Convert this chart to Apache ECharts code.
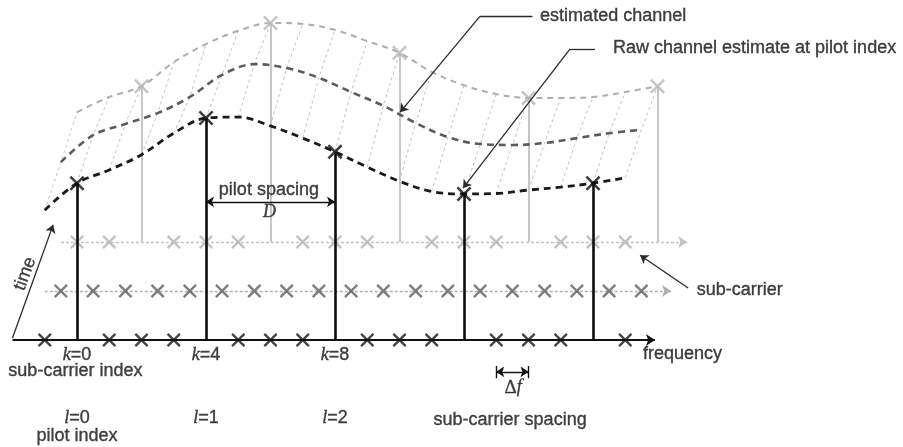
<!DOCTYPE html>
<html><head><meta charset="utf-8">
<script src="https://cdn.jsdelivr.net/npm/echarts@6/dist/echarts.min.js"></script>
<style>html,body{margin:0;padding:0;background:#fff}#c{width:903px;height:447px}</style>
</head><body><div id="c"></div>
<script>
// sub-carrier indices spanned by the drawn channel surface
const subcarriers = [-1,0,1,2,3,4,5,6,7,8,9,10,11,12,13,14,15,16,17];
// channel amplitude per sub-carrier for three consecutive OFDM symbols (front, middle, back)
const ampSymbol0 = [2.65,3.20,3.47,3.78,4.22,4.53,4.55,4.37,4.12,3.84,3.53,3.24,3.03,2.98,2.99,3.06,3.12,3.20,3.31];
const ampSymbol1 = [2.63,3.18,3.41,3.63,3.96,4.41,4.63,4.55,4.35,4.06,3.78,3.43,3.14,3.00,2.98,3.02,3.12,3.22,3.29];
const ampSymbol2 = [2.65,2.96,3.18,3.67,4.04,4.31,4.47,4.45,4.33,4.10,3.86,3.47,3.20,3.02,2.94,2.94,2.96,3.06,3.18];
// pilot positions
const pilotsSymbol0 = [0,4,8,12,16];
const pilotsSymbol2 = [1,5,9,13,17];
// data sub-carriers (X marks on the axis)
const dataSymbol0 = [-1,1,2,3,5,6,7,9,10,11,13,14,15,17];
const dataSymbol1 = [-1,0,1,2,3,4,5,6,7,8,9,10,11,12,13,14,15,16,17];
const dataSymbol2 = [-1,0,2,3,4,6,7,8,10,11,12,14,15,16];
// labels
const subcarrierIndexLabels = [[0,'0'],[4,'4'],[8,'8']];
const pilotIndexLabels = [[0,'0'],[4,'1'],[8,'2']];

const SHIFT = 0.5;                       // oblique time axis: x shift per symbol
function proj(k, t, a) { return [k + SHIFT * t, t + a]; }
const amps = [ampSymbol0, ampSymbol1, ampSymbol2];
const ampAt = (t, k) => amps[t][subcarriers.indexOf(k)];
const X_PATH = 'path://M0,1.2L1.2,0L5,3.8L8.8,0L10,1.2L6.2,5L10,8.8L8.8,10L5,6.2L1.2,10L0,8.8L3.8,5Z';
const TXT = '#111111';
const SANS = 'Liberation Sans, Arial, sans-serif';
const SERIF = 'Liberation Serif, Times New Roman, serif';

const series = [];
function xs(name, pts, color, size, z) {
  series.push({ type:'scatter', name, data: pts, symbol: X_PATH, symbolSize: size, symbolKeepAspect:true,
    itemStyle:{color}, z, clip:false, silent:true });
}
function segs(name, list, style, z, sym, symSize) {
  series.push({ type:'lines', name, coordinateSystem:'cartesian2d', polyline:false,
    data: list.map(c => ({coords:c})), lineStyle: Object.assign({curveness:0, opacity:1}, style),
    symbol: sym || 'none', symbolSize: symSize || 8, z, clip:false, silent:true });
}

// ---- row lines (time symbols) ----
const rows = [
  {t:2, start:-1.5, color:'#c2c2c2', width:1.3, type:[3,2], z:1},
  {t:1, start:-1.5, color:'#b0b0b0', width:1.3, type:[3,2], z:3},
  {t:0, start:-2,   color:'#111111', width:2,   type:'solid', z:6}
];
rows.forEach(r => segs('row'+r.t, [[proj(r.start, r.t, 0), proj(17.92, r.t, 0)]],
  {color:r.color, width:r.width, type:r.type}, r.z, ['none','arrow'], 9));

// back row marks and stems
xs('data2', dataSymbol2.map(k => proj(k,2,0)), '#b3b3b3', 14, 2);
segs('stem2', pilotsSymbol2.map(k => [proj(k,2,0), proj(k,2,ampAt(2,k))]), {color:'#c6c6c6', width:2}, 2);
xs('pilot2', pilotsSymbol2.map(k => proj(k,2,ampAt(2,k))), '#b8b8b8', 15, 2);

// mesh (estimated channel surface)
series.push({ type:'lines', name:'mesh', coordinateSystem:'cartesian2d', polyline:true,
  data: subcarriers.map((k,i) => ({coords:[0,1,2].map(t => proj(k,t,amps[t][i]))})),
  lineStyle:{color:'#c2c2c2', width:1, type:[3,3], opacity:1}, z:2, clip:false, silent:true });

// curves
const curveStyle = [
  {color:'#1a1a1a', width:2.8, type:[7,5], z:7},
  {color:'#5c5c5c', width:2.6, type:[7,5], z:4},
  {color:'#adadad', width:2,   type:[6,5], z:2}
];
[2,1,0].forEach(t => series.push({ type:'line', name:'curve'+t,
  data: subcarriers.map((k,i) => proj(k,t,amps[t][i])), smooth:0.35, symbol:'none',
  lineStyle:{color:curveStyle[t].color, width:curveStyle[t].width, type:curveStyle[t].type},
  z:curveStyle[t].z, clip:false, silent:true }));

// middle row marks
xs('data1', dataSymbol1.map(k => proj(k,1,0)), '#5e5e5e', 14, 3);

// front row
xs('data0', dataSymbol0.map(k => proj(k,0,0)), '#151515', 14, 6);
segs('stem0', pilotsSymbol0.map(k => [proj(k,0,0), proj(k,0,ampAt(0,k))]), {color:'#0d0d0d', width:2.6}, 8);
xs('pilot0', pilotsSymbol0.map(k => proj(k,0,ampAt(0,k))), '#0d0d0d', 15, 9);

// ---- annotation arrows ----
const lead = {color:'#2a2a2a', width:1.3};
segs('leadH', [[[12.5,6.61],[14.12,6.61]], [[15.29,5.94],[16.06,5.94]]], lead, 10);
segs('leadA', [[[12.5,6.61],[10.02,4.65]], [[15.29,5.94],[11.97,3.10]], [[18.95,1.06],[17.46,1.73]],
  [[-2,0.04],[-0.74,2.35]]], lead, 10, ['none','arrow'], 8);
segs('spacing', [[[4,2.82],[8,2.82]], [[13,-0.65],[14,-0.65]]], {color:'#111', width:1.4}, 10, ['arrow','arrow'], 8);
segs('bars', [[[13,-0.53],[13,-0.78]], [[14,-0.53],[14,-0.78]]], {color:'#111', width:1.4}, 10);

// ---- texts ----
const B = {textBorderColor:TXT, textBorderWidth:0.35};
function lab(pos, formatter, extra) {
  return { value: pos, label: Object.assign({ show:true, position:'inside', formatter,
    color:TXT, fontFamily:SANS, fontSize:18, align:'center', verticalAlign:'middle',
    textBorderColor:TXT, textBorderWidth:0.35, textShadowBlur:0,
    rich:{ i:Object.assign({fontFamily:SERIF, fontStyle:'italic', fontSize:18, color:TXT}, B),
           n:Object.assign({fontFamily:SANS, fontSize:18, color:TXT}, B),
           s:Object.assign({fontFamily:SERIF, fontSize:19, color:TXT}, B) } }, extra || {}) };
}
const texts = [
  lab([14.36,6.61], 'estimated channel', {align:'left'}),
  lab([16.62,5.96], 'Raw channel estimate at pilot index', {align:'left'}),
  lab([5.95,3.06], 'pilot spacing'),
  lab([5.97,2.61], '{i|D}'),
  lab([-1.61,1.35], 'time', {rotate:70}),
  lab([19.22,1.02], 'sub-carrier', {align:'left'}),
  lab([17.55,-0.29], 'frequency', {align:'left'}),
  lab([-0.05,-0.63], 'sub-carrier index'),
  lab([13.52,-0.97], '{s|Δ}{i|f}'),
  lab([13.43,-1.63], 'sub-carrier spacing'),
  lab([0,-1.96], 'pilot index')
];
subcarrierIndexLabels.forEach(([k,v]) => texts.push(lab([k,-0.31], '{i|k}{n|=' + v + '}')));
pilotIndexLabels.forEach(([k,v]) => texts.push(lab([k,-1.59], '{i|l}{n|=' + v + '}')));
series.push({ type:'scatter', name:'texts', data:texts, symbolSize:1, itemStyle:{color:'rgba(0,0,0,0)'},
  label:{show:true}, labelLayout:{hideOverlap:false}, z:11, clip:false, silent:true });

const chart = echarts.init(document.getElementById('c'), null, {renderer:'canvas'});
chart.setOption({
  animation:false,
  backgroundColor:'#ffffff',
  grid:{left:12.5, right:19.75, top:21.5, bottom:9},
  xAxis:{type:'value', min:-2, max:25, show:false},
  yAxis:{type:'value', min:-2, max:6.5, show:false},
  series
});
</script></body></html>
